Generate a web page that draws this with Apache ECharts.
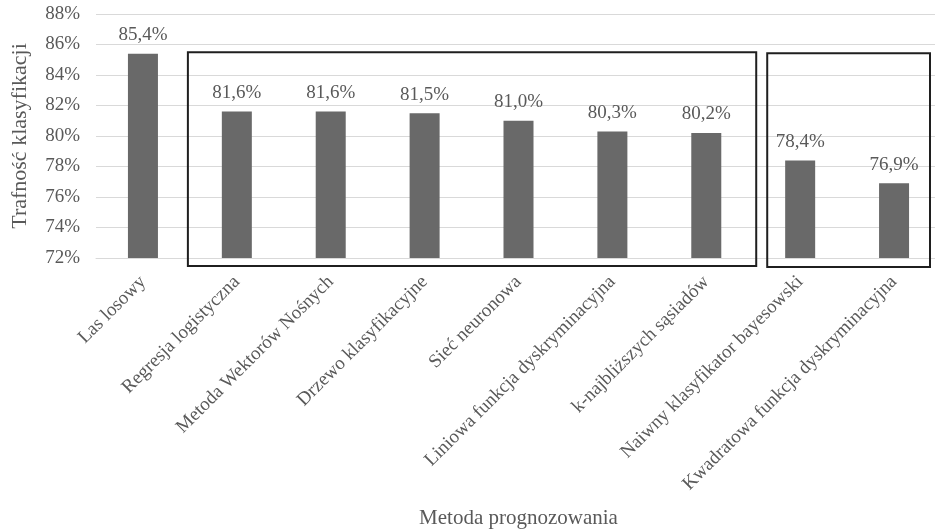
<!DOCTYPE html>
<html>
<head>
<meta charset="utf-8">
<script src="https://cdn.jsdelivr.net/npm/echarts@6/dist/echarts.min.js"></script>
<style>
  html, body { margin: 0; padding: 0; background: #fff; }
  #chart { width: 935px; height: 532px; }
</style>
</head>
<body>
<div id="chart"></div>
<script>
// Classification accuracy per forecasting method
const methods = [
  'Las losowy',
  'Regresja logistyczna',
  'Metoda Wektorów Nośnych',
  'Drzewo klasyfikacyjne',
  'Sieć neuronowa',
  'Liniowa funkcja dyskryminacyjna',
  'k-najbliższych sąsiadów',
  'Naiwny klasyfikator bayesowski',
  'Kwadratowa funkcja dyskryminacyjna'
];
const accuracy = [85.4, 81.6, 81.6, 81.5, 81.0, 80.3, 80.2, 78.4, 76.9];
const yTicks = { min: 72, max: 88, step: 2 };

// Framed groups of methods (inclusive category indexes)
const groups = [
  { from: 1, to: 6 },
  { from: 7, to: 8 }
];

const FONT = '"Liberation Serif", "Times New Roman", serif';
const TEXT = '#595959';

const chart = echarts.init(document.getElementById('chart'), null, { renderer: 'canvas' });

chart.setOption({
  animation: false,
  backgroundColor: '#ffffff',
  grid: {
    left: 96, top: 14, width: 845, bottom: 274,
    containLabel: false,
    outerBoundsMode: 'none'
  },
  xAxis: {
    type: 'category',
    data: methods,
    name: 'Metoda prognozowania',
    nameLocation: 'middle',
    nameGap: 250,
    nameTextStyle: { fontFamily: FONT, fontSize: 21, color: TEXT },
    axisLine: { show: true, lineStyle: { color: '#d9d9d9' } },
    axisTick: { show: false },
    axisLabel: {
      interval: 0,
      rotate: 45,
      margin: 21,
      fontFamily: FONT,
      fontSize: 19,
      color: TEXT
    }
  },
  yAxis: {
    type: 'value',
    min: yTicks.min,
    max: yTicks.max,
    interval: yTicks.step,
    name: 'Trafność klasyfikacji',
    nameLocation: 'middle',
    nameGap: 65,
    nameTextStyle: { fontFamily: FONT, fontSize: 22, color: TEXT },
    axisLine: { show: false },
    axisTick: { show: false },
    splitLine: { lineStyle: { color: '#d9d9d9', width: 1 } },
    axisLabel: {
      margin: 16,
      fontFamily: FONT,
      fontSize: 19,
      color: TEXT,
      formatter: v => v + '%'
    }
  },
  series: [{
    type: 'bar',
    data: accuracy,
    barWidth: 30,
    itemStyle: { color: '#696969' },
    label: {
      show: true,
      position: 'top',
      distance: 9,
      fontFamily: FONT,
      fontSize: 19,
      color: TEXT,
      formatter: p => p.value.toFixed(1).replace('.', ',') + '%'
    }
  }]
});

// Frames around the method groups, placed from the axis scales
function drawFrames() {
  const c0 = chart.convertToPixel({ xAxisIndex: 0 }, 0);
  const c1 = chart.convertToPixel({ xAxisIndex: 0 }, 1);
  const step = c1 - c0;
  const topY = chart.convertToPixel({ yAxisIndex: 0 }, 85.5);
  const baseY = chart.convertToPixel({ yAxisIndex: 0 }, yTicks.min);
  const pads = [
    { l: -2, r: 3, t: 0, b: 8 },
    { l: 14, r: -11, t: 1, b: 9 }
  ];
  const rects = groups.map((g, i) => {
    const p = pads[i];
    const left = chart.convertToPixel({ xAxisIndex: 0 }, g.from) - step / 2 + p.l;
    const right = chart.convertToPixel({ xAxisIndex: 0 }, g.to) + step / 2 + p.r;
    const top = topY + p.t;
    const bottom = baseY + p.b;
    return {
      type: 'rect',
      z: 10,
      shape: { x: left, y: top, width: right - left, height: bottom - top },
      style: { fill: 'none', stroke: '#1f1f1f', lineWidth: 2 }
    };
  });
  chart.setOption({ graphic: rects });
}
drawFrames();
</script>
</body>
</html>
